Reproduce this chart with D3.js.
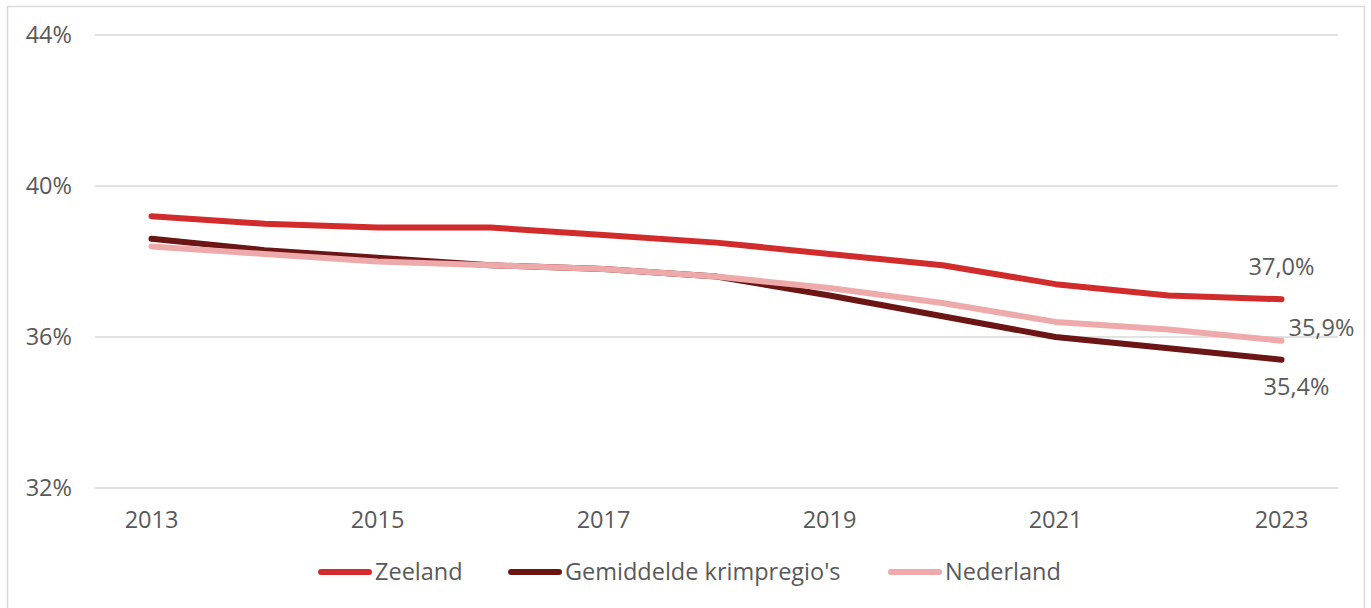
<!DOCTYPE html>
<html>
<head>
<meta charset="utf-8">
<script src="https://cdn.jsdelivr.net/npm/d3@7"></script>
<style>
  body { margin: 0; background: #fff; }
  svg text { font-family: "Open Sans", Lato, sans-serif; fill: #595959; }
</style>
</head>
<body>
<div id="chart"></div>
<script>
var years = [2013, 2014, 2015, 2016, 2017, 2018, 2019, 2020, 2021, 2022, 2023];
var yTicks = [32, 36, 40, 44];
var seriesNames = ["Zeeland", "Gemiddelde krimpregio's", "Nederland"];
var zeeland = [39.2, 39.0, 38.9, 38.9, 38.7, 38.5, 38.2, 37.9, 37.4, 37.1, 37.0];
var krimp = [38.6, 38.3, 38.1, 37.9, 37.8, 37.6, 37.1, 36.55, 36.0, 35.7, 35.4];
var nederland = [38.4, 38.2, 38.0, 37.9, 37.8, 37.6, 37.3, 36.9, 36.4, 36.2, 35.9];
var colors = ["#d22b2b", "#6b1515", "#eeaaaa"];

var width = 1371, height = 608;
var margin = { top: 35, right: 33, bottom: 120, left: 95 };
var w = width - margin.left - margin.right,
    h = 488 - margin.top;
var fontSize = 23.5;

var svg = d3.select("#chart").append("svg")
    .attr("width", width)
    .attr("height", height);

// outer frame
svg.append("rect")
    .attr("x", 7.5).attr("y", 6.5)
    .attr("width", 1357).attr("height", 610)
    .attr("fill", "none")
    .attr("stroke", "#d9d9d9")
    .attr("stroke-width", 1.5);

var g = svg.append("g")
    .attr("transform", "translate(" + margin.left + "," + margin.top + ")");

var x = d3.scaleBand().domain(years).range([0, w]);
var y = d3.scaleLinear().domain([32, 44]).range([h, 0]);

function cx(d) { return x(d) + x.bandwidth() / 2; }

// gridlines
g.selectAll(".grid")
    .data(yTicks)
    .enter().append("line")
    .attr("x1", 0).attr("x2", w)
    .attr("y1", function(d) { return y(d); })
    .attr("y2", function(d) { return y(d); })
    .attr("stroke", "#d9d9d9")
    .attr("stroke-width", 1.5);

// y labels
g.selectAll(".ylab")
    .data(yTicks)
    .enter().append("text")
    .attr("x", -23)
    .attr("y", function(d) { return y(d); })
    .attr("dy", "0.35em")
    .attr("text-anchor", "end")
    .attr("font-size", fontSize)
    .text(function(d) { return d + "%"; });

// x labels
g.selectAll(".xlab")
    .data(years.filter(function(d, i) { return i % 2 === 0; }))
    .enter().append("text")
    .attr("x", cx)
    .attr("y", h + 40)
    .attr("text-anchor", "middle")
    .attr("font-size", fontSize)
    .text(function(d) { return d; });

var series = [zeeland, krimp, nederland];
var line = d3.line()
    .x(function(d, i) { return cx(years[i]); })
    .y(function(d) { return y(d); });

series.forEach(function(s, i) {
    g.append("path")
        .datum(s)
        .attr("d", line)
        .attr("fill", "none")
        .attr("stroke", colors[i])
        .attr("stroke-width", 6)
        .attr("stroke-linecap", "round")
        .attr("stroke-linejoin", "round");
});

// end labels
var last = years.length - 1;
var fmt = function(v) { return v.toFixed(1).replace(".", ",") + "%"; };
var labelOffsets = [{ dx: 0, dy: -32, anchor: "middle" },
                    { dx: 15, dy: 27, anchor: "middle" },
                    { dx: 7, dy: -13, anchor: "start" }];
series.forEach(function(s, i) {
    var o = labelOffsets[i];
    g.append("text")
        .attr("x", cx(years[last]) + o.dx)
        .attr("y", y(s[last]) + o.dy)
        .attr("dy", "0.35em")
        .attr("text-anchor", o.anchor)
        .attr("font-size", fontSize)
        .text(fmt(s[last]));
});

// legend
var legendX = [318, 508, 888];
var legend = svg.selectAll(".legend")
    .data(seriesNames)
    .enter().append("g")
    .attr("transform", function(d, i) { return "translate(" + legendX[i] + ",572)"; });
legend.append("line")
    .attr("x1", 3).attr("x2", 51)
    .attr("stroke", function(d, i) { return colors[i]; })
    .attr("stroke-width", 6)
    .attr("stroke-linecap", "round");
legend.append("text")
    .attr("x", 57)
    .attr("dy", "0.35em")
    .attr("font-size", fontSize)
    .text(function(d) { return d; });
</script>
</body>
</html>
